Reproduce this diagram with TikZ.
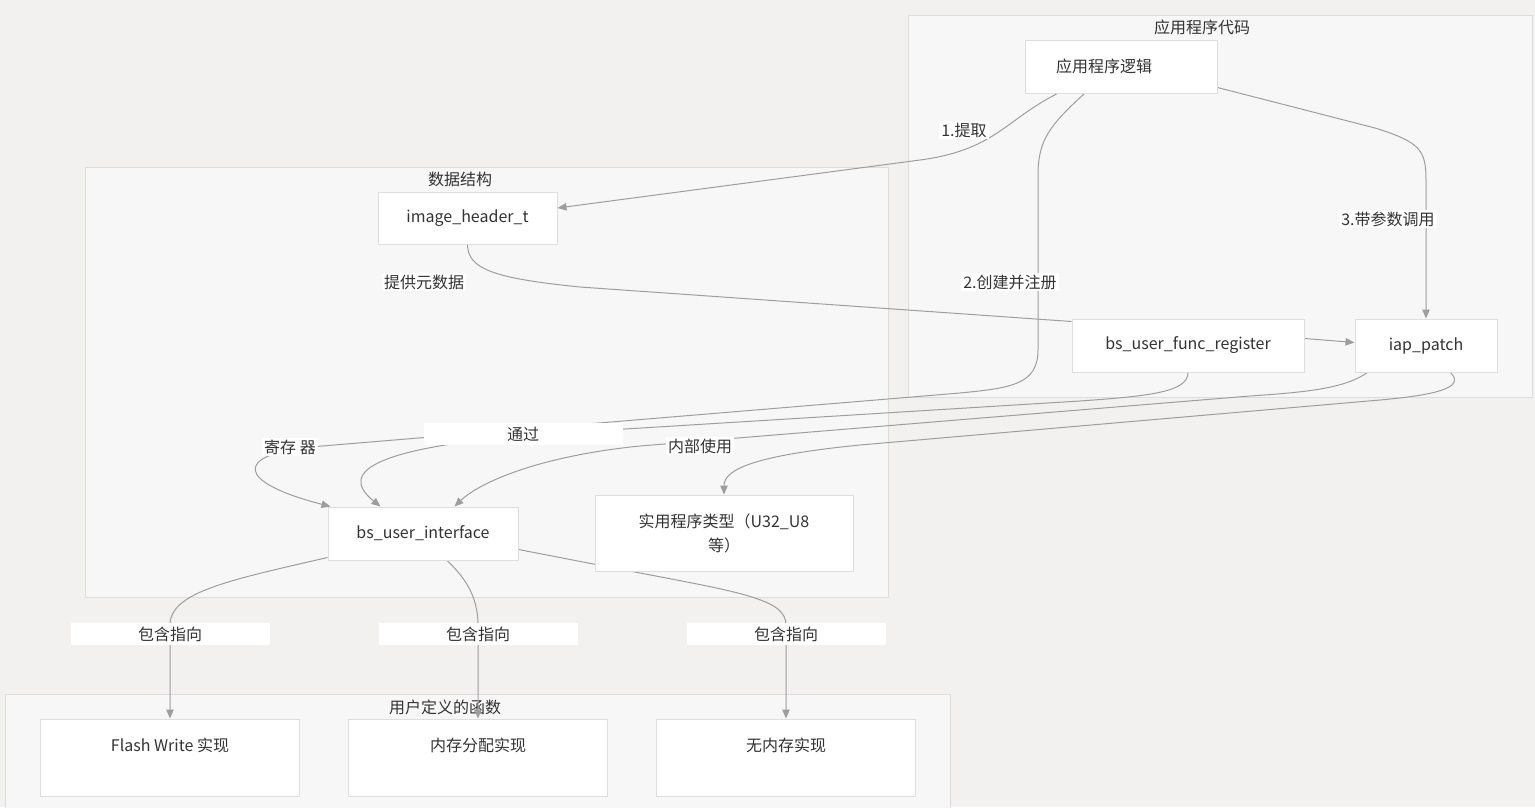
\documentclass[tikz,border=0pt]{standalone}
\usepackage{fontspec}
\setmainfont{Noto Sans CJK SC}
\usetikzlibrary{arrows.meta,calc}
\definecolor{canvasbg}{RGB}{242,241,239}
\definecolor{clusterfill}{RGB}{247,247,247}
\definecolor{clusterline}{RGB}{221,221,221}
\definecolor{boxline}{RGB}{222,222,222}
\definecolor{edgeline}{RGB}{158,158,158}
\definecolor{labeltext}{RGB}{51,51,51}
\pgfdeclarelayer{clusters}
\pgfdeclarelayer{edges}
\pgfsetlayers{clusters,edges,main}
\tikzset{
  clusterbox/.style={draw=clusterline, fill=clusterfill, line width=1pt, inner sep=0pt},
  clustertitle/.style={font=\fontsize{16}{20}\selectfont, text=labeltext, inner sep=0pt},
  flowbox/.style={draw=boxline, fill=white, line width=1pt, align=center, inner sep=0pt, text=labeltext, font=\fontsize{16}{24}\selectfont},
  funcbox/.style={flowbox, minimum width=259pt, minimum height=77pt, text height=12pt, text depth=24pt},
  edgelabel/.style={fill=white, inner sep=2pt, text=labeltext, font=\fontsize{16}{20}\selectfont},
  widelabel/.style={edgelabel, minimum width=199pt, minimum height=22pt},
  flowedge/.style={draw=edgeline, line width=1pt},
  flowarrow/.style={flowedge, -{Triangle[length=9pt,width=7.5pt]}}
}
\begin{document}
\begin{tikzpicture}[x=1pt, y=-1pt]
\useasboundingbox (0,0) rectangle (1535,807);
\node[flowbox, minimum width=192pt, minimum height=53pt, text width=130pt, align=left] (logic) at (1121,66.5) {应用程序逻辑};
\node[flowbox, minimum width=179pt, minimum height=52pt] (header) at (467.5,218) {image\_header\_t};
\node[flowbox, minimum width=232pt, minimum height=53pt] (register) at (1188,345.5) {bs\_user\_func\_register};
\node[flowbox, minimum width=142pt, minimum height=53pt] (iap) at (1426,345.5) {iap\_patch};
\node[flowbox, minimum width=190pt, minimum height=53pt] (iface) at (423,533.5) {bs\_user\_interface};
\node[flowbox, minimum width=258pt, minimum height=76pt] (utiltype) at (724,533) {实用程序类型（U32\_U8\\等）};
\node[funcbox] (flashimpl) at (170,757.5) {Flash Write 实现};
\node[funcbox] (allocimpl) at (478,757.5) {内存分配实现};
\node[funcbox] (nomemimpl) at (786,757.5) {无内存实现};
\begin{pgfonlayer}{clusters}
\fill[canvasbg] (0,0) rectangle (1535,807);
\node[clusterbox, minimum width=624pt, minimum height=382pt] (appcode) at (1220,206) {};
\node[clustertitle] (appcodetitle) at (1202,27) {应用程序代码};
\node[clusterbox, minimum width=803pt, minimum height=430pt] (datastruct) at (486.5,382) {};
\node[clustertitle] (datastructtitle) at (460,179) {数据结构};
\node[clusterbox, minimum width=945pt, minimum height=130pt] (userfunc) at (477.5,759) {};
\node[clustertitle] (userfunctitle) at (445,707) {用户定义的函数};
\end{pgfonlayer}
\begin{pgfonlayer}{edges}
\draw[flowarrow] ($(logic.south west)+(33,0)$) .. controls (1005,120) and (995,150) .. (920,160) -- ($(header.east)+(0,-10)$);
\draw[flowarrow] ($(logic.south west)+(60,0)$) .. controls (1050,125) and (1038,140) .. (1038,175) -- (1038,350) .. controls (1038,385) and (1010,388) .. (960,393) -- (310,447) .. controls (235,455) and (235,482) .. ($(iface.north west)+(3,0)$);
\draw[flowarrow] ($(logic.south east)+(0,-6)$) -- (1375,128) .. controls (1420,142) and (1426,150) .. (1426,180) -- (iap.north);
\draw[flowedge] (header.south) .. controls (468,268) and (490,278) .. (580,287) -- ($(register.north west)+(0,3)$);
\draw[flowarrow] ($(register.east)+(0,-7)$) -- ($(iap.west)+(0,-3)$);
\draw[flowarrow] (register.south) .. controls (1188,392) and (1150,396) .. (1080,401) -- (560,433) .. controls (380,445) and (335,470) .. ($(iface.north west)+(53,0)$);
\draw[flowarrow] ($(iap.south west)+(13,0)$) .. controls (1345,388) and (1310,392) .. (1250,396) -- (640,446) .. controls (540,456) and (480,482) .. ($(iface.north west)+(127,0)$);
\draw[flowarrow] ($(iap.south east)+(-47,0)$) .. controls (1466,388) and (1435,395) .. (1380,400) -- (860,445) .. controls (760,455) and (724,468) .. (utiltype.north);
\draw[flowarrow] ($(iface.south west)+(0,-3)$) .. controls (230,580) and (170,592) .. (170,625) -- (flashimpl.north);
\draw[flowarrow] ($(iface.south)+(24,0)$) .. controls (468,580) and (478,600) .. (478,625) -- (allocimpl.north);
\draw[flowarrow] ($(iface.east)+(0,16)$) -- (640,573) .. controls (745,593) and (786,600) .. (786,625) -- (nomemimpl.north);
\node[edgelabel] (lblextract) at (964,130) {1.提取};
\node[edgelabel] (lblcreate) at (1010,282) {2.创建并注册};
\node[edgelabel] (lblcall) at (1388,219) {3.带参数调用};
\node[edgelabel] (lblmeta) at (424,282) {提供元数据};
\node[edgelabel] (lblregister) at (290,447) {寄存 器};
\node[widelabel] (lblvia) at (523,434) {通过};
\node[edgelabel] (lblinternal) at (700,446) {内部使用};
\node[widelabel] (lblflash) at (170,634) {包含指向};
\node[widelabel] (lblalloc) at (478,634) {包含指向};
\node[widelabel] (lblnomem) at (786,634) {包含指向};
\end{pgfonlayer}
\end{tikzpicture}
\end{document}
